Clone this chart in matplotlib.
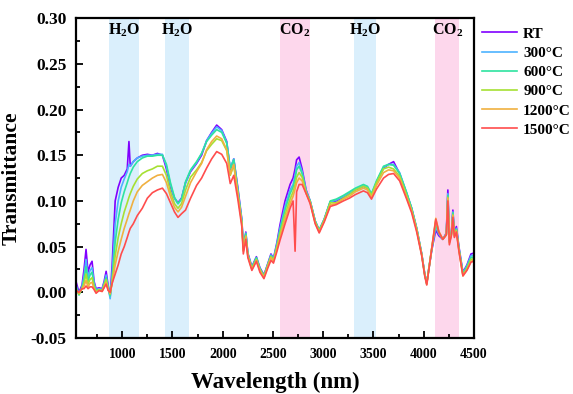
import numpy as np
import matplotlib
matplotlib.use('Agg')
import matplotlib.pyplot as plt
from matplotlib.ticker import MultipleLocator

plt.rcParams['font.family'] = ['Liberation Serif', 'DejaVu Serif']
plt.rcParams['font.weight'] = 'bold'
plt.rcParams['mathtext.fontset'] = 'custom'
plt.rcParams['mathtext.rm'] = 'Liberation Serif:bold'
plt.rcParams['mathtext.it'] = 'Liberation Serif:bold'
plt.rcParams['mathtext.bf'] = 'Liberation Serif:bold'

# wavelength grid (nm)
wl = [540, 570, 600, 620, 640, 660, 680, 700, 720, 740, 770, 800, 820, 840, 860, 880,
      900, 930, 960, 990, 1020, 1050, 1067, 1080, 1110, 1150, 1200, 1250, 1300, 1350,
      1400, 1440, 1480, 1520, 1555, 1590, 1630, 1680, 1740, 1790, 1840, 1890, 1940,
      1990, 2040, 2075, 2110, 2150, 2190, 2205, 2230, 2250, 2290, 2335, 2370, 2410,
      2450, 2480, 2505, 2540, 2570, 2620, 2670, 2700, 2720, 2735, 2760, 2790, 2830,
      2870, 2920, 2960, 3010, 3070, 3130, 3200, 3260, 3320, 3400, 3440, 3480, 3530,
      3600, 3650, 3700, 3760, 3830, 3880, 3930, 3980, 4010, 4030, 4050, 4080, 4120,
      4150, 4190, 4225, 4240, 4255, 4275, 4290, 4305, 4325, 4350, 4390, 4430, 4470, 4500]

t_rt = [0.012, 0.000, 0.008, 0.025, 0.047, 0.022, 0.030, 0.034, 0.012, 0.004, 0.005, 0.004,
        0.012, 0.023, 0.008, -0.005, 0.030, 0.100, 0.115, 0.125, 0.128, 0.135, 0.165, 0.138,
        0.143, 0.147, 0.150, 0.151, 0.150, 0.152, 0.150, 0.135, 0.115, 0.103, 0.098, 0.103,
        0.120, 0.132, 0.141, 0.150, 0.166, 0.175, 0.183, 0.178, 0.165, 0.134, 0.146, 0.115,
        0.080, 0.050, 0.066, 0.043, 0.028, 0.039, 0.027, 0.019, 0.032, 0.042, 0.037, 0.055,
        0.074, 0.100, 0.118, 0.125, 0.135, 0.145, 0.148, 0.135, 0.112, 0.100, 0.078, 0.068,
        0.080, 0.099, 0.100, 0.104, 0.108, 0.112, 0.116, 0.114, 0.106, 0.120, 0.136, 0.140,
        0.143, 0.130, 0.108, 0.092, 0.070, 0.042, 0.020, 0.010, 0.025, 0.046, 0.068, 0.062,
        0.058, 0.065, 0.112, 0.058, 0.065, 0.090, 0.065, 0.072, 0.050, 0.022, 0.030, 0.042,
        0.043]

t_300 = [0.008, -0.002, 0.006, 0.018, 0.036, 0.016, 0.024, 0.027, 0.010, 0.003, 0.004, 0.003,
         0.010, 0.019, 0.006, -0.007, 0.020, 0.075, 0.100, 0.115, 0.124, 0.132, 0.140, 0.138,
         0.143, 0.147, 0.149, 0.150, 0.150, 0.151, 0.151, 0.138, 0.118, 0.103, 0.097, 0.102,
         0.120, 0.133, 0.142, 0.152, 0.166, 0.174, 0.181, 0.177, 0.164, 0.136, 0.146, 0.113,
         0.079, 0.049, 0.065, 0.042, 0.027, 0.038, 0.026, 0.018, 0.031, 0.041, 0.036, 0.053,
         0.070, 0.094, 0.112, 0.118, 0.128, 0.138, 0.142, 0.132, 0.111, 0.100, 0.078, 0.068,
         0.080, 0.099, 0.101, 0.105, 0.109, 0.113, 0.117, 0.115, 0.107, 0.121, 0.137, 0.140,
         0.140, 0.131, 0.109, 0.092, 0.070, 0.042, 0.020, 0.010, 0.025, 0.047, 0.072, 0.064,
         0.058, 0.064, 0.108, 0.057, 0.064, 0.088, 0.064, 0.070, 0.049, 0.021, 0.029, 0.040,
         0.041]

t_600 = [0.006, -0.003, 0.005, 0.014, 0.028, 0.012, 0.019, 0.022, 0.008, 0.002, 0.003, 0.002,
         0.009, 0.016, 0.005, -0.004, 0.015, 0.055, 0.080, 0.098, 0.110, 0.120, 0.126, 0.130,
         0.137, 0.143, 0.147, 0.149, 0.149, 0.150, 0.150, 0.140, 0.120, 0.104, 0.097, 0.102,
         0.121, 0.134, 0.143, 0.152, 0.165, 0.172, 0.178, 0.175, 0.163, 0.135, 0.145, 0.112,
         0.078, 0.048, 0.064, 0.042, 0.027, 0.038, 0.026, 0.018, 0.031, 0.040, 0.036, 0.052,
         0.068, 0.090, 0.108, 0.115, 0.124, 0.134, 0.138, 0.130, 0.110, 0.100, 0.078, 0.068,
         0.080, 0.100, 0.102, 0.106, 0.110, 0.114, 0.118, 0.116, 0.108, 0.122, 0.138, 0.140,
         0.139, 0.130, 0.109, 0.092, 0.070, 0.042, 0.020, 0.010, 0.026, 0.048, 0.075, 0.065,
         0.058, 0.064, 0.106, 0.056, 0.064, 0.087, 0.063, 0.069, 0.048, 0.020, 0.028, 0.038,
         0.039]

t_900 = [0.004, -0.002, 0.004, 0.010, 0.020, 0.009, 0.014, 0.016, 0.006, 0.001, 0.003, 0.002,
         0.008, 0.014, 0.004, -0.002, 0.012, 0.040, 0.060, 0.075, 0.088, 0.098, 0.104, 0.108,
         0.116, 0.124, 0.130, 0.133, 0.135, 0.138, 0.138, 0.128, 0.110, 0.097, 0.092, 0.097,
         0.112, 0.126, 0.134, 0.142, 0.155, 0.162, 0.168, 0.166, 0.155, 0.128, 0.139, 0.108,
         0.076, 0.046, 0.062, 0.040, 0.026, 0.036, 0.025, 0.017, 0.030, 0.039, 0.035, 0.050,
         0.064, 0.085, 0.102, 0.110, 0.118, 0.126, 0.131, 0.126, 0.109, 0.099, 0.077, 0.067,
         0.079, 0.098, 0.098, 0.103, 0.107, 0.112, 0.116, 0.114, 0.106, 0.120, 0.135, 0.137,
         0.135, 0.127, 0.106, 0.090, 0.069, 0.041, 0.019, 0.009, 0.025, 0.048, 0.078, 0.066,
         0.058, 0.063, 0.104, 0.055, 0.063, 0.085, 0.062, 0.068, 0.047, 0.019, 0.026, 0.036,
         0.037]

t_1200 = [0.003, -0.001, 0.004, 0.007, 0.013, 0.006, 0.010, 0.011, 0.004, 0.000, 0.002, 0.001,
          0.006, 0.011, 0.003, -0.001, 0.010, 0.030, 0.045, 0.058, 0.070, 0.080, 0.086, 0.090,
          0.100, 0.110, 0.117, 0.121, 0.125, 0.128, 0.129, 0.120, 0.105, 0.093, 0.088, 0.093,
          0.105, 0.120, 0.132, 0.141, 0.156, 0.165, 0.171, 0.168, 0.156, 0.129, 0.140, 0.108,
          0.075, 0.045, 0.061, 0.040, 0.025, 0.035, 0.024, 0.016, 0.029, 0.038, 0.034, 0.048,
          0.061, 0.080, 0.097, 0.105, 0.113, 0.120, 0.125, 0.122, 0.108, 0.098, 0.076, 0.066,
          0.078, 0.096, 0.097, 0.102, 0.105, 0.110, 0.114, 0.112, 0.104, 0.117, 0.131, 0.134,
          0.133, 0.125, 0.104, 0.089, 0.068, 0.041, 0.019, 0.009, 0.025, 0.049, 0.081, 0.067,
          0.058, 0.063, 0.103, 0.054, 0.063, 0.084, 0.061, 0.067, 0.046, 0.018, 0.025, 0.034,
          0.035]

t_1500 = [0.002, 0.000, 0.004, 0.004, 0.007, 0.004, 0.006, 0.006, 0.003, -0.001, 0.002, 0.001,
          0.005, 0.009, 0.002, 0.000, 0.010, 0.020, 0.030, 0.042, 0.050, 0.060, 0.066, 0.070,
          0.075, 0.084, 0.092, 0.103, 0.109, 0.112, 0.114, 0.108, 0.098, 0.088, 0.082, 0.086,
          0.090, 0.103, 0.117, 0.125, 0.136, 0.146, 0.154, 0.151, 0.141, 0.119, 0.128, 0.102,
          0.072, 0.042, 0.058, 0.038, 0.024, 0.034, 0.022, 0.015, 0.027, 0.035, 0.032, 0.045,
          0.057, 0.075, 0.092, 0.100, 0.045, 0.110, 0.118, 0.118, 0.108, 0.097, 0.075, 0.065,
          0.077, 0.094, 0.096, 0.100, 0.103, 0.107, 0.111, 0.109, 0.102, 0.113, 0.125, 0.129,
          0.130, 0.122, 0.102, 0.087, 0.066, 0.040, 0.018, 0.008, 0.024, 0.048, 0.080, 0.066,
          0.058, 0.063, 0.100, 0.052, 0.062, 0.082, 0.060, 0.066, 0.045, 0.018, 0.024, 0.033,
          0.034]

labels = ['RT', '300°C', '600°C', '900°C', '1200°C', '1500°C']
colors = ['#8000FF', '#4DB3FF', '#2EE3A0', '#A6E033', '#F0B040', '#FF4D4D']
series = [t_rt, t_300, t_600, t_900, t_1200, t_1500]

# absorption bands: (start, end, label, kind)
bands = [(870, 1170, 'H$_2$O', 'h2o'), (1425, 1665, 'H$_2$O', 'h2o'),
         (2570, 2865, 'CO$_2$', 'co2'), (3310, 3530, 'H$_2$O', 'h2o'),
         (4115, 4355, 'CO$_2$', 'co2')]
band_colors = {'h2o': '#DAEFFC', 'co2': '#FDD7EC'}

fig = plt.figure(figsize=(5.73, 3.94), dpi=100)
ax = fig.add_axes([0.1326, 0.142, 0.6946, 0.812])

for x0, x1, name, kind in bands:
    ax.axvspan(x0, x1, color=band_colors[kind], lw=0, zorder=0)
    ax.text((x0 + x1) / 2, 0.287, name, ha='center', va='center',
            fontsize=11.5, fontweight='bold')

for y, c, lab in zip(series, colors, labels):
    ax.plot(wl, y, color=c, lw=1.2, label=lab, zorder=2)

ax.set_xlim(540, 4500)
ax.set_ylim(-0.05, 0.30)
ax.xaxis.set_major_locator(MultipleLocator(500))
ax.xaxis.set_minor_locator(MultipleLocator(250))
ax.yaxis.set_major_locator(MultipleLocator(0.05))
ax.yaxis.set_minor_locator(MultipleLocator(0.025))
ax.set_xticks([1000, 1500, 2000, 2500, 3000, 3500, 4000, 4500])
ax.set_yticks(np.arange(-0.05, 0.31, 0.05))
ax.set_yticklabels(['%.2f' % v for v in np.arange(-0.05, 0.31, 0.05)])
ax.tick_params(which='both', direction='in', width=1.3)
ax.tick_params(which='major', length=5)
ax.tick_params(which='minor', length=3)
ax.tick_params(axis='x', labelsize=10, pad=7)
ax.tick_params(axis='y', labelsize=12.5, pad=7)
for s in ax.spines.values():
    s.set_linewidth(1.6)

ax.set_xlabel('Wavelength (nm)', fontsize=16.5, fontweight='bold', labelpad=8)
ax.set_ylabel('Transmittance', fontsize=15.5, fontweight='bold', labelpad=6)

ax.legend(loc='upper left', bbox_to_anchor=(1.02, 0.972), frameon=False,
          fontsize=11, handlelength=2.3, handletextpad=0.4, labelspacing=0.36,
          borderaxespad=0, borderpad=0)

fig.savefig('out.png', dpi=100)
